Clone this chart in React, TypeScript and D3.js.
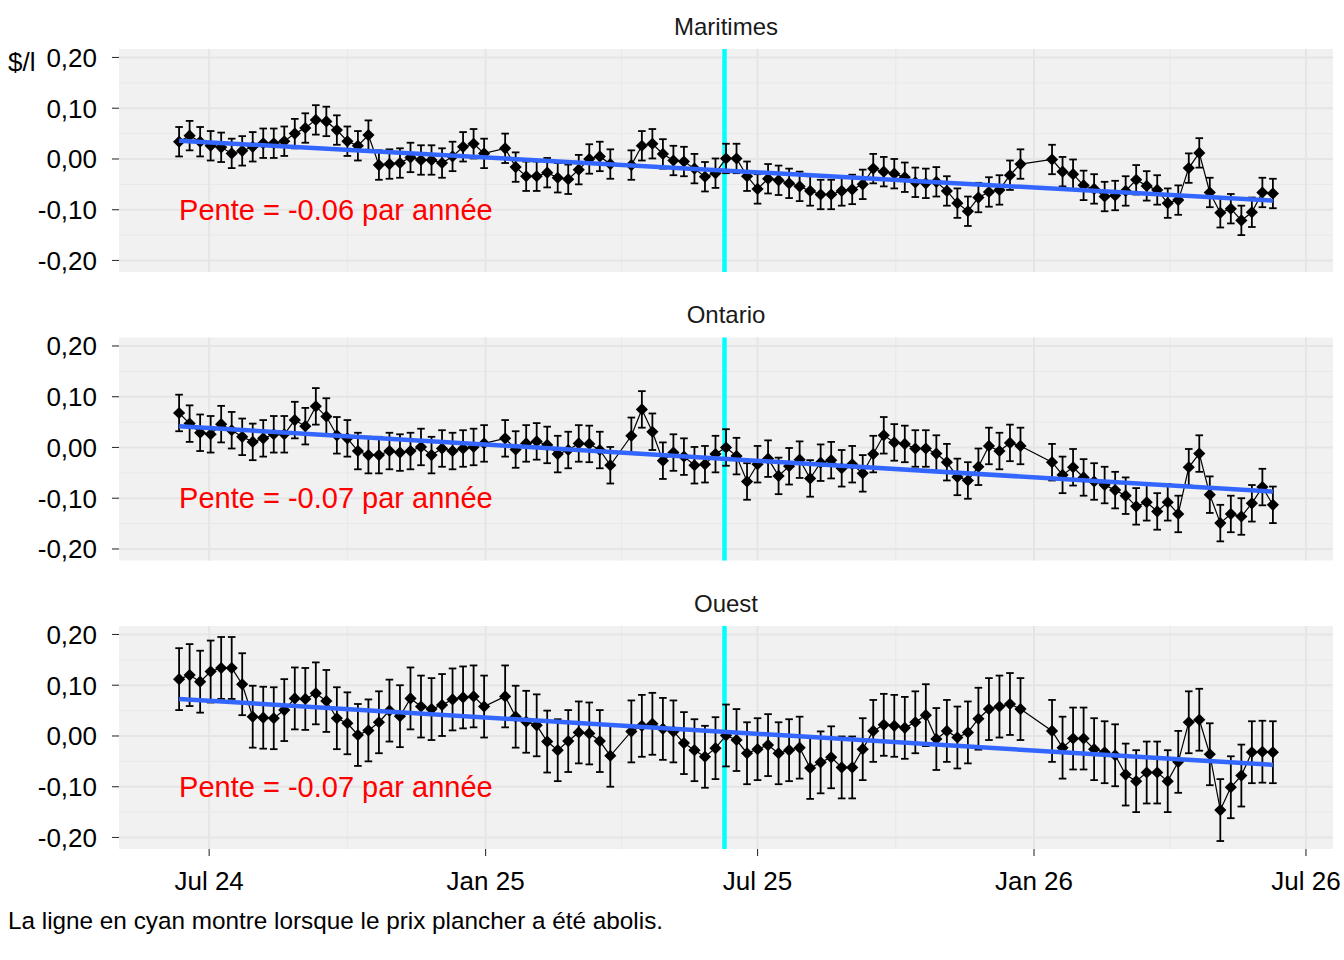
import * as d3 from 'd3';

// Weekly observation dates (holiday weeks are missing in the source)
const DATES = [
  '2024-06-11', '2024-06-18', '2024-06-25', '2024-07-02', '2024-07-09', '2024-07-16', '2024-07-23', '2024-07-30',
  '2024-08-06', '2024-08-13', '2024-08-20', '2024-08-27', '2024-09-03', '2024-09-10', '2024-09-17', '2024-09-24',
  '2024-10-01', '2024-10-08', '2024-10-15', '2024-10-22', '2024-10-29', '2024-11-05', '2024-11-12', '2024-11-19',
  '2024-11-26', '2024-12-03', '2024-12-10', '2024-12-17', '2024-12-24', '2024-12-31',
  '2025-01-14', '2025-01-21', '2025-01-28', '2025-02-04', '2025-02-11', '2025-02-18', '2025-02-25', '2025-03-04',
  '2025-03-11', '2025-03-18', '2025-03-25',
  '2025-04-08', '2025-04-15', '2025-04-22', '2025-04-29', '2025-05-06', '2025-05-13', '2025-05-20', '2025-05-27',
  '2025-06-03', '2025-06-10', '2025-06-17', '2025-06-24', '2025-07-01', '2025-07-08', '2025-07-15', '2025-07-22',
  '2025-07-29', '2025-08-05', '2025-08-12', '2025-08-19', '2025-08-26', '2025-09-02', '2025-09-09', '2025-09-16',
  '2025-09-23', '2025-09-30', '2025-10-07', '2025-10-14', '2025-10-21', '2025-10-28', '2025-11-04', '2025-11-11',
  '2025-11-18', '2025-11-25', '2025-12-02', '2025-12-09', '2025-12-16', '2025-12-23',
  '2026-01-13', '2026-01-20', '2026-01-27', '2026-02-03', '2026-02-10', '2026-02-17', '2026-02-24', '2026-03-03',
  '2026-03-10', '2026-03-17', '2026-03-24', '2026-03-31', '2026-04-07', '2026-04-14', '2026-04-21', '2026-04-28',
  '2026-05-05', '2026-05-12', '2026-05-19', '2026-05-26', '2026-06-02', '2026-06-09',
];

const REGIONS = ['Maritimes', 'Ontario', 'Ouest'];

const MARITIMES = [
  0.034, 0.046, 0.034, 0.026, 0.023, 0.011, 0.016, 0.024, 0.031, 0.031,
  0.035, 0.050, 0.061, 0.077, 0.074, 0.057, 0.035, 0.026, 0.047, -0.012,
  -0.010, -0.008, 0.003, -0.002, -0.002, -0.008, 0.005, 0.024, 0.030, 0.011,
  0.021, -0.016, -0.034, -0.034, -0.027, -0.037, -0.040, -0.021, 0.000, 0.005, -0.010,
  -0.012, 0.026, 0.030, 0.010, -0.003, -0.005, -0.019, -0.035, -0.028,
  0.001, 0.001, -0.034, -0.059, -0.039, -0.042, -0.048, -0.054, -0.063, -0.070,
  -0.070, -0.063, -0.060, -0.050, -0.019, -0.025, -0.029, -0.036, -0.046, -0.048,
  -0.045, -0.063, -0.087, -0.103, -0.076, -0.065, -0.061, -0.032, -0.010,
  -0.001, -0.025, -0.030, -0.052, -0.059, -0.074, -0.072, -0.063, -0.041, -0.053, -0.061,
  -0.087, -0.081, -0.018, 0.012, -0.066, -0.106, -0.098, -0.121, -0.105, -0.066, -0.068,
];

const ONTARIO = [
  0.068, 0.047, 0.029, 0.026, 0.046, 0.034, 0.021, 0.011, 0.018, 0.026,
  0.026, 0.054, 0.042, 0.081, 0.061, 0.024, 0.018, -0.007, -0.015, -0.015,
  -0.007, -0.010, -0.007, 0.001, -0.015, -0.002, -0.007, -0.002, 0.001, 0.008,
  0.018, -0.004, 0.008, 0.012, 0.005, -0.013, -0.005, 0.008, 0.007, -0.005, -0.035,
  0.023, 0.075, 0.031, -0.026, -0.010, -0.018, -0.035, -0.033, -0.013,
  0.000, -0.017, -0.067, -0.033, -0.022, -0.056, -0.037, -0.024, -0.061, -0.030,
  -0.025, -0.041, -0.033, -0.051, -0.013, 0.024, 0.010, 0.007, -0.002, -0.002,
  -0.012, -0.029, -0.058, -0.065, -0.038, 0.003, -0.007, 0.009, 0.003,
  -0.029, -0.054, -0.039, -0.059, -0.067, -0.074, -0.084, -0.095, -0.116, -0.108, -0.126,
  -0.108, -0.131, -0.039, -0.012, -0.093, -0.149, -0.131, -0.136, -0.110, -0.078, -0.113,
];

const OUEST = [
  0.112, 0.120, 0.107, 0.127, 0.134, 0.134, 0.102, 0.038, 0.036, 0.035,
  0.051, 0.074, 0.073, 0.084, 0.069, 0.035, 0.025, 0.002, 0.011, 0.027,
  0.050, 0.039, 0.074, 0.058, 0.053, 0.061, 0.072, 0.076, 0.078, 0.058,
  0.078, 0.038, 0.028, 0.021, -0.011, -0.028, -0.010, 0.007, 0.005, -0.010, -0.039,
  0.009, 0.020, 0.024, 0.014, 0.009, -0.014, -0.028, -0.041, -0.024,
  0.001, -0.008, -0.034, -0.026, -0.018, -0.034, -0.028, -0.023, -0.063, -0.052,
  -0.042, -0.062, -0.062, -0.026, 0.010, 0.022, 0.020, 0.016, 0.027, 0.041,
  -0.006, 0.010, -0.003, 0.007, 0.034, 0.053, 0.058, 0.063, 0.053,
  0.010, -0.023, -0.005, -0.005, -0.026, -0.032, -0.038, -0.076, -0.089, -0.072, -0.072,
  -0.089, -0.051, 0.027, 0.032, -0.036, -0.146, -0.101, -0.078, -0.032, -0.031, -0.032,
];

const SERIES = [MARITIMES, ONTARIO, OUEST];
// half-width of the error bars, per region
const ERRORS = [0.029, 0.036, 0.061];
// fitted trend at first and last date
const TREND_START = [0.036, 0.042, 0.073];
const TREND_END = [-0.082, -0.087, -0.057];
const SLOPES = ['-0.06', '-0.07', '-0.07'];

const X_TICKS = ['2024-07-01', '2025-01-01', '2025-07-01', '2026-01-01', '2026-07-01'];
const X_TICK_LABELS = ['Jul 24', 'Jan 25', 'Jul 25', 'Jan 26', 'Jul 26'];
const Y_TICKS = [-0.2, -0.1, 0, 0.1, 0.2];
const ABOLITION_DATE = '2025-06-09';
const CAPTION = 'La ligne en cyan montre lorsque le prix plancher a été abolis.';

const WIDTH = 1344;
const HEIGHT = 960;
const LEFT = 119;
const RIGHT = 1333;
const PANEL_TOPS = [49, 337.5, 626];
const PANEL_H = 223;
const Y_DOMAIN = [-0.2227, 0.2167];
const FONT = '"Liberation Sans", Arial, Helvetica, sans-serif';

const parse = d3.timeParse('%Y-%m-%d');
const fr = d3.formatLocale({ decimal: ',', thousands: ' ', grouping: [3], currency: ['', '$'], minus: '-' });
const fmtY = fr.format('.2f');

export default function App() {
  const dates = DATES.map((d) => parse(d)!);
  const x = d3.scaleTime()
    .domain([parse('2024-05-02')!, parse('2026-07-19')!])
    .range([LEFT, RIGHT]);
  const majorX = X_TICKS.map((d) => parse(d)!);
  const minorX = d3.pairs(majorX).map(([a, b]) => new Date((+a + +b) / 2));
  const minorY = d3.pairs(Y_TICKS).map(([a, b]) => (a + b) / 2);
  const cyanX = x(parse(ABOLITION_DATE)!);
  const diamond = d3.symbol().type(d3.symbolSquare).size(74)()!;
  const bottom = PANEL_TOPS[2] + PANEL_H;

  return (
    <>
      <style>{'body{margin:0}'}</style>
      <svg width={WIDTH} height={HEIGHT} style={{ display: 'block', fontFamily: FONT }}>
        <rect width={WIDTH} height={HEIGHT} fill="#fff" />
        {REGIONS.map((region, r) => {
          const top = PANEL_TOPS[r];
          const y = d3.scaleLinear().domain(Y_DOMAIN).range([top + PANEL_H, top]);
          const values = SERIES[r];
          const err = ERRORS[r];
          const line = d3.line<number>()
            .x((_, i) => x(dates[i]))
            .y((v) => y(v));
          const trend = d3.line<[Date, number]>()
            .x((d) => x(d[0]))
            .y((d) => y(d[1]));
          return (
            <g key={region}>
              <text x={(LEFT + RIGHT) / 2} y={top - 14.5} textAnchor="middle" fontSize={24} fill="#1a1a1a">
                {region}
              </text>
              <rect x={LEFT} y={top} width={RIGHT - LEFT} height={PANEL_H} fill="#f1f1f1" />
              {minorY.map((v) => (
                <line key={'my' + v} x1={LEFT} x2={RIGHT} y1={y(v)} y2={y(v)} stroke="#e8e8e8" strokeWidth={1} />
              ))}
              {minorX.map((d) => (
                <line key={'mx' + +d} x1={x(d)} x2={x(d)} y1={top} y2={top + PANEL_H} stroke="#e8e8e8" strokeWidth={1} />
              ))}
              {Y_TICKS.map((v) => (
                <line key={'gy' + v} x1={LEFT} x2={RIGHT} y1={y(v)} y2={y(v)} stroke="#e5e5e5" strokeWidth={2} />
              ))}
              {majorX.map((d) => (
                <line key={'gx' + +d} x1={x(d)} x2={x(d)} y1={top} y2={top + PANEL_H} stroke="#e5e5e5" strokeWidth={2} />
              ))}
              {Y_TICKS.map((v) => (
                <g key={'ty' + v}>
                  <line x1={LEFT - 7} x2={LEFT} y1={y(v)} y2={y(v)} stroke="#333" strokeWidth={1.1} />
                  <text x={97} y={y(v)} dy="0.36em" textAnchor="end" fontSize={26} fill="#000">
                    {fmtY(v)}
                  </text>
                </g>
              ))}
              <line x1={cyanX} x2={cyanX} y1={top} y2={top + PANEL_H} stroke="#00ffff" strokeWidth={4.5} />
              {values.map((v, i) => {
                const cx = x(dates[i]);
                return (
                  <g key={'e' + i} stroke="#000" strokeWidth={1.8}>
                    <line x1={cx} x2={cx} y1={y(v - err)} y2={y(v + err)} />
                    <line x1={cx - 3.8} x2={cx + 3.8} y1={y(v - err)} y2={y(v - err)} />
                    <line x1={cx - 3.8} x2={cx + 3.8} y1={y(v + err)} y2={y(v + err)} />
                  </g>
                );
              })}
              <path d={line(values)!} fill="none" stroke="#000" strokeWidth={1.2} />
              {values.map((v, i) => (
                <path
                  key={'p' + i}
                  d={diamond}
                  transform={`translate(${x(dates[i])},${y(v)}) rotate(45)`}
                  fill="#000"
                />
              ))}
              <path
                d={trend([[dates[0], TREND_START[r]], [dates[dates.length - 1], TREND_END[r]]])!}
                fill="none"
                stroke="#3366ff"
                strokeWidth={4.5}
              />
              <text x={x(dates[0])} y={y(-0.1)} dy="0.35em" fontSize={29} fill="#ff0000">
                {`Pente = ${SLOPES[r]} par année`}
              </text>
            </g>
          );
        })}
        <text x={8} y={71} fontSize={26} fill="#000">$/l</text>
        {majorX.map((d, i) => (
          <g key={'xt' + i}>
            <line x1={x(d)} x2={x(d)} y1={bottom} y2={bottom + 7} stroke="#333" strokeWidth={1.1} />
            <text x={x(d)} y={890} textAnchor="middle" fontSize={26} fill="#000">
              {X_TICK_LABELS[i]}
            </text>
          </g>
        ))}
        <text x={8} y={929} fontSize={24.3} fill="#000">{CAPTION}</text>
      </svg>
    </>
  );
}
